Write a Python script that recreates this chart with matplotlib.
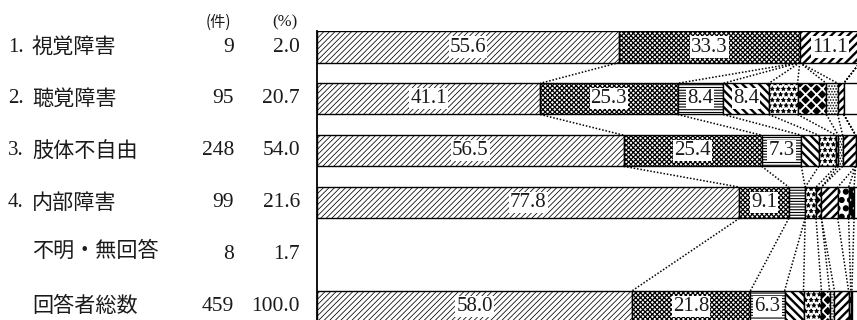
import matplotlib
matplotlib.use("Agg")
import matplotlib.pyplot as plt
import matplotlib.hatch as mhatch
from matplotlib.transforms import blended_transform_factory

# 'O' hatch is used as large filled polka dots
mhatch.LargeCircles.filled = True
mhatch.LargeCircles.size = 0.3

row_nums = ["1.", "2.", "3.", "4.", "", ""]
row_names = ["視覚障害", "聴覚障害", "肢体不自由", "内部障害", "不明・無回答", "回答者総数"]
row_counts = [9, 95, 248, 99, 8, 459]
row_shares = [2.0, 20.7, 54.0, 21.6, 1.7, 100.0]

# percentage breakdown of each row over the 11 response categories
pct_visual = [55.6, 33.3, 0.0, 0.0, 0.0, 0.0, 0.0, 11.1, 0.0, 0.0, 0.0]
pct_hearing = [41.1, 25.3, 8.4, 8.4, 5.3, 5.3, 2.1, 1.1, 0.0, 0.0, 3.2]
pct_physical = [56.5, 25.4, 7.3, 3.2, 3.2, 0.4, 0.8, 2.4, 0.0, 0.0, 0.8]
pct_internal = [77.8, 9.1, 3.0, 0.0, 2.0, 1.0, 0.0, 3.0, 2.0, 1.0, 1.0]
pct_unknown = None  # no bar drawn for this row
pct_total = [58.0, 21.8, 6.3, 3.5, 3.3, 1.5, 0.9, 2.6, 0.4, 0.2, 1.5]

rows_pct = [pct_visual, pct_hearing, pct_physical, pct_internal, pct_unknown, pct_total]

# fill style per category: face colour, hatch colour, hatch, hatch line width
styles = [
    ("white", "black", "//////", 0.55),
    ("white", "black", "xxxxxxx", 0.9),
    ("white", "black", "------", 0.8),
    ("white", "black", "\\\\\\\\", 1.7),
    ("white", "black", "***", 0.6),
    ("black", "white", "xxx", 1.3),
    ("white", "black", "......", 0.8),
    ("white", "black", "////", 1.7),
    ("white", "black", "OO", 0.8),
    ("black", "white", "..", 0.8),
    ("white", "black", "", 0.8),
]

BAR_H = 0.6
LABEL_MIN = 6.0
W, H = 857, 320
num_font = ["Liberation Serif", "DejaVu Serif"]
jp_font = ["Noto Sans CJK JP", "DejaVu Sans"]
ink = "#1a1a1a"

fig = plt.figure(figsize=(W / 100, H / 100), dpi=100)
fig.patch.set_facecolor("white")

row_px0, row_step = 47.0, 51.9   # first row centre and row spacing, in pixels
top_px = row_px0 - row_step * BAR_H / 2
ymax = (H - row_px0) / row_step
left_px, right_px = 317, 860
ax = fig.add_axes([left_px / W, 0, (right_px - left_px) / W, (H - top_px) / H])
ax.set_xlim(0, 100)
ax.set_ylim(ymax, -BAR_H / 2)
for s in ("top", "right", "bottom"):
    ax.spines[s].set_visible(False)
ax.spines["left"].set_linewidth(1.3)
ax.set_xticks([])
ax.set_yticks([])
ax.patch.set_alpha(0)

# stacked bars
for i, pct in enumerate(rows_pct):
    if pct is None:
        continue
    left = 0.0
    for v, (face, hc, hatch, hlw) in zip(pct, styles):
        if v > 0:
            b = ax.barh(i, v, left=left, height=BAR_H, color=face,
                        edgecolor=hc, hatch=hatch, linewidth=0)[0]
            if hasattr(b, "set_hatch_linewidth"):
                b.set_hatch_linewidth(hlw)
            ax.barh(i, v, left=left, height=BAR_H, fill=False,
                    edgecolor="black", linewidth=1.0)
            if v >= LABEL_MIN:
                ax.text(left + v / 2, i, f"{v:.1f}", ha="center", va="center",
                        fontsize=15, family=num_font, color=ink,
                        bbox=dict(facecolor="white", edgecolor="none", pad=0.8))
        left += v

# dotted connectors between successive bars
bar_rows = [i for i, p in enumerate(rows_pct) if p is not None]
for a, b in zip(bar_rows[:-1], bar_rows[1:]):
    ca = cb = 0.0
    for va, vb in zip(rows_pct[a], rows_pct[b]):
        ca += va
        cb += vb
        ax.plot([ca, cb], [a + BAR_H / 2, b - BAR_H / 2], ls=(0, (1, 1.2)),
                color="black", lw=1.1, solid_capstyle="butt")

# row headings and figures
tr = blended_transform_factory(fig.transFigure, ax.transData)
for i in range(len(row_names)):
    yoff = -0.08 if i == 4 else 0.0
    if row_nums[i]:
        ax.text(8 / W, i + yoff, row_nums[i], transform=tr, ha="left", va="center",
                fontsize=15, family=num_font, color=ink)
    ax.text(32 / W, i + yoff, row_names[i], transform=tr, ha="left", va="center",
            fontsize=15.2, family=jp_font, color=ink)
    ax.text(234 / W, i, f"{row_counts[i]}", transform=tr, ha="right", va="center",
            fontsize=15.5, family=num_font, color=ink)
    ax.text(300 / W, i, f"{row_shares[i]:.1f}", transform=tr, ha="right", va="center",
            fontsize=15.5, family=num_font, color=ink)

fig.text(218 / W, 1 - 22 / H, "(件)", ha="center", va="center",
         fontsize=11, family=jp_font, color=ink)
fig.text(285 / W, 1 - 22 / H, "(%)", ha="center", va="center",
         fontsize=12, family=num_font, color=ink)

fig.savefig("out.png", dpi=100)
